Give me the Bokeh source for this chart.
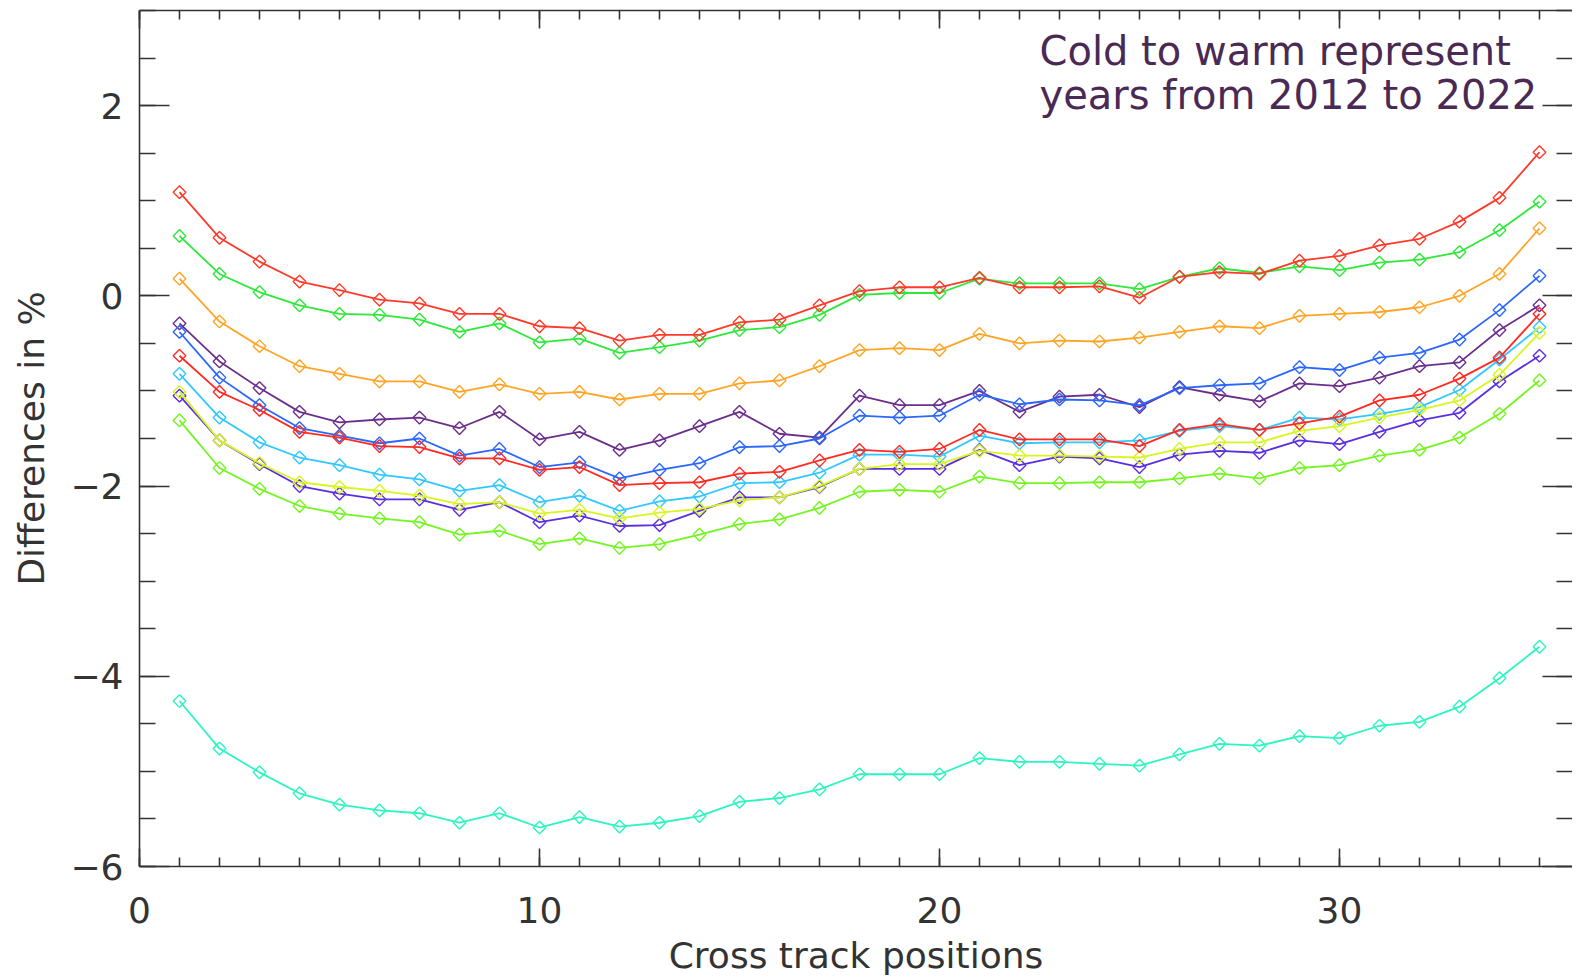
import numpy as np
from bokeh.plotting import figure
from bokeh.models import SingleIntervalTicker, LinearAxis, Label, Range1d, CustomJSTickFormatter
from bokeh.embed import file_html
from bokeh.resources import INLINE

# ---------------- data ----------------
positions = list(range(1, 36))

years = ["2012", "2013", "2014", "2015", "2016", "2017", "2018", "2019", "2020", "2021", "2022"]
colors = ["#6b2e8c", "#5b2ee0", "#2a66ff", "#30c8ff", "#2cf5c0", "#2ee83a",
          "#74f520", "#d8f520", "#ffa526", "#ff2a22", "#ff3a2a"]

y2012 = [-0.29, -0.69, -0.97, -1.22, -1.33, -1.30, -1.28, -1.39, -1.22, -1.51, -1.43, -1.62,
         -1.52, -1.37, -1.22, -1.45, -1.49, -1.05, -1.15, -1.15, -1.00, -1.22, -1.06, -1.04,
         -1.17, -0.96, -1.04, -1.11, -0.92, -0.95, -0.86, -0.74, -0.70, -0.36, -0.10]
y2013 = [-1.05, -1.52, -1.77, -2.00, -2.08, -2.14, -2.14, -2.25, -2.17, -2.38, -2.31, -2.42,
         -2.41, -2.26, -2.12, -2.12, -2.01, -1.82, -1.82, -1.82, -1.62, -1.78, -1.69, -1.71,
         -1.80, -1.67, -1.63, -1.65, -1.52, -1.56, -1.43, -1.31, -1.23, -0.90, -0.63]
y2014 = [-0.38, -0.86, -1.15, -1.39, -1.47, -1.55, -1.50, -1.68, -1.61, -1.80, -1.75, -1.92,
         -1.83, -1.76, -1.59, -1.58, -1.50, -1.26, -1.28, -1.26, -1.04, -1.14, -1.09, -1.10,
         -1.15, -0.97, -0.94, -0.92, -0.75, -0.78, -0.65, -0.60, -0.46, -0.15, 0.21]
y2015 = [-0.82, -1.28, -1.54, -1.70, -1.78, -1.88, -1.93, -2.05, -1.99, -2.17, -2.10, -2.26,
         -2.16, -2.11, -1.97, -1.96, -1.86, -1.67, -1.67, -1.69, -1.47, -1.55, -1.54, -1.54,
         -1.52, -1.42, -1.37, -1.41, -1.28, -1.30, -1.24, -1.17, -0.99, -0.67, -0.33]
y2016 = [-4.26, -4.76, -5.01, -5.23, -5.35, -5.41, -5.44, -5.54, -5.44, -5.59, -5.48, -5.58,
         -5.54, -5.47, -5.32, -5.28, -5.19, -5.03, -5.03, -5.03, -4.86, -4.90, -4.90, -4.92,
         -4.94, -4.82, -4.71, -4.73, -4.63, -4.65, -4.52, -4.48, -4.32, -4.02, -3.69]
y2017 = [0.63, 0.23, 0.04, -0.10, -0.19, -0.20, -0.25, -0.38, -0.29, -0.49, -0.45, -0.60,
         -0.54, -0.47, -0.36, -0.33, -0.20, 0.01, 0.03, 0.03, 0.18, 0.13, 0.13, 0.13,
         0.07, 0.20, 0.29, 0.24, 0.31, 0.27, 0.35, 0.38, 0.46, 0.69, 0.99]
y2018 = [-1.31, -1.81, -2.03, -2.21, -2.29, -2.34, -2.38, -2.51, -2.47, -2.61, -2.55, -2.65,
         -2.61, -2.51, -2.40, -2.35, -2.23, -2.06, -2.04, -2.06, -1.90, -1.97, -1.97, -1.96,
         -1.96, -1.92, -1.87, -1.92, -1.81, -1.78, -1.68, -1.62, -1.49, -1.24, -0.89]
y2019 = [-1.01, -1.52, -1.76, -1.96, -2.01, -2.05, -2.10, -2.19, -2.17, -2.29, -2.25, -2.34,
         -2.28, -2.24, -2.15, -2.12, -2.00, -1.82, -1.77, -1.77, -1.63, -1.68, -1.68, -1.69,
         -1.70, -1.61, -1.54, -1.54, -1.42, -1.37, -1.28, -1.20, -1.10, -0.83, -0.39]
y2020 = [0.18, -0.27, -0.53, -0.74, -0.82, -0.90, -0.90, -1.01, -0.93, -1.03, -1.01, -1.09,
         -1.03, -1.03, -0.92, -0.89, -0.74, -0.57, -0.55, -0.57, -0.40, -0.50, -0.47, -0.48,
         -0.44, -0.38, -0.32, -0.34, -0.21, -0.19, -0.17, -0.12, 0.00, 0.23, 0.71]
y2021 = [-0.63, -1.01, -1.20, -1.43, -1.49, -1.58, -1.59, -1.71, -1.71, -1.83, -1.80, -1.99,
         -1.97, -1.96, -1.87, -1.85, -1.73, -1.62, -1.64, -1.61, -1.41, -1.51, -1.51, -1.51,
         -1.58, -1.41, -1.35, -1.41, -1.34, -1.27, -1.10, -1.04, -0.87, -0.65, -0.19]
y2022 = [1.09, 0.61, 0.36, 0.15, 0.06, -0.04, -0.08, -0.19, -0.19, -0.32, -0.34, -0.47,
         -0.41, -0.41, -0.28, -0.25, -0.10, 0.05, 0.09, 0.09, 0.19, 0.09, 0.09, 0.10,
         -0.02, 0.20, 0.25, 0.23, 0.37, 0.42, 0.53, 0.60, 0.78, 1.03, 1.51]

series = [y2012, y2013, y2014, y2015, y2016, y2017, y2018, y2019, y2020, y2021, y2022]

y_tick_values = [-6, -4, -2, 0, 2]
y_tick_labels = ["\u22126", "\u22124", "\u22122", "0", "2"]

x_title = "Cross track positions"
y_title = "Differences in %"
note_line1 = "Cold to warm represent"
note_line2 = "years from 2012 to 2022"

# ---------------- figure ----------------
FONT = "DejaVu Sans"
AX = "#333333"
W, H = 1572, 978
LEFT, TOP, BOTTOM = 139, 10, 112
PX_PER_X = 40.0

p = figure(width=W, height=H, output_backend="svg", toolbar_location=None,
           x_range=Range1d(0, (W - LEFT) / PX_PER_X), y_range=Range1d(-6, 3),
           min_border_left=LEFT, min_border_right=0, min_border_top=TOP, min_border_bottom=BOTTOM,
           background_fill_color="white", border_fill_color="white")
p.outline_line_color = None
p.xgrid.visible = False
p.ygrid.visible = False

blank = CustomJSTickFormatter(code="return ''")


def common(ax):
    ax.major_tick_out = 0
    ax.minor_tick_out = 0
    ax.axis_line_color = AX
    ax.axis_line_width = 1.6
    ax.major_tick_line_color = AX
    ax.minor_tick_line_color = AX
    ax.major_tick_line_width = 1.6
    ax.minor_tick_line_width = 1.6
    ax.major_label_text_font = FONT
    ax.major_label_text_color = AX
    ax.axis_label_text_font = FONT
    ax.axis_label_text_font_style = "normal"
    ax.axis_label_text_color = AX
    ax.axis_label_text_font_size = "36px"


def style_x(ax, labels=True):
    ax.ticker = SingleIntervalTicker(interval=10, num_minor_ticks=10)
    ax.major_tick_in = 18
    ax.minor_tick_in = 9
    common(ax)
    if labels:
        ax.major_label_text_font_size = "36px"
        ax.major_label_standoff = 30
    else:
        ax.formatter = blank
        ax.major_label_text_font_size = "0px"
        ax.major_label_standoff = 0


def style_y(ax, labels=True):
    ax.ticker = SingleIntervalTicker(interval=2, num_minor_ticks=4)
    ax.major_tick_in = 30
    ax.minor_tick_in = 16
    common(ax)
    if labels:
        ax.major_label_text_font_size = "36px"
        ax.major_label_standoff = 16
        ax.major_label_overrides = {v: t for v, t in zip(y_tick_values, y_tick_labels)}
    else:
        ax.formatter = blank
        ax.major_label_text_font_size = "0px"
        ax.major_label_standoff = 0


style_x(p.xaxis[0])
p.xaxis[0].axis_label = x_title
p.xaxis[0].axis_label_standoff = 9

style_y(p.yaxis[0])
p.yaxis[0].axis_label = y_title
p.yaxis[0].axis_label_standoff = 15

top_axis = LinearAxis()
style_x(top_axis, labels=False)
p.add_layout(top_axis, "above")

right_axis = LinearAxis()
style_y(right_axis, labels=False)
right_axis.axis_line_color = None
p.add_layout(right_axis, "right")

# ---------------- series ----------------
for yr, col, vals in zip(years, colors, series):
    p.line(positions, vals, line_color=col, line_width=1.8)
    p.scatter(positions, vals, marker="square", angle=np.pi / 4, size=9,
              fill_color=None, line_color=col, line_width=1.4)

# ---------------- note ----------------
p.add_layout(Label(x=22.5, y=2.57, text=note_line1, text_font=FONT, text_font_size="40px",
                   text_color="#4a2a55", text_align="left", text_baseline="alphabetic"))
p.add_layout(Label(x=22.5, y=2.11, text=note_line2, text_font=FONT, text_font_size="40px",
                   text_color="#4a2a55", text_align="left", text_baseline="alphabetic"))

open("out.html", "w").write(file_html(p, INLINE))
